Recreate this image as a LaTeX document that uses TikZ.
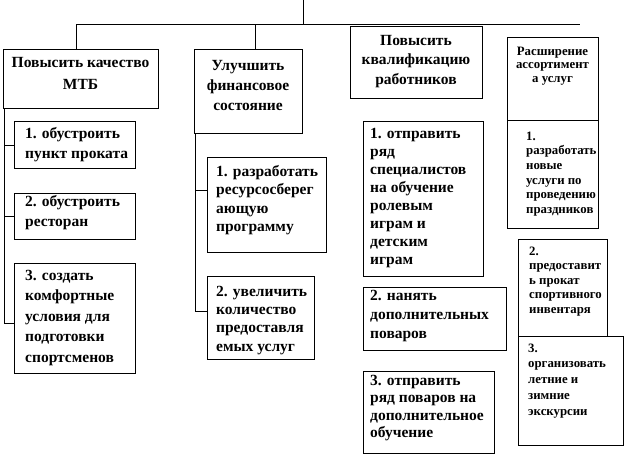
\documentclass[tikz,border=0pt]{standalone}
\usepackage{fontspec}
\setmainfont{Liberation Serif}
\newcommand\bigst{\rule{0pt}{12pt}}
\newcommand\smallst{\rule{0pt}{9.5pt}}
\tikzset{
  box/.style={draw, line width=1pt, inner sep=0pt, anchor=north west},
  ttl/.style={inner sep=0pt, anchor=north, align=center},
  txt/.style={inner sep=0pt, anchor=north west, align=left},
  big/.style={font=\fontsize{15.5}{#1}\selectfont\bfseries},
  small/.style={font=\fontsize{12.8}{#1}\selectfont\bfseries},
  conn/.style={line width=1pt},
}
\begin{document}
\begin{tikzpicture}[x=1pt,y=-1pt]
\useasboundingbox (0,0) rectangle (626,458);
% top-level boxes
\node[box, minimum width=155, minimum height=59] (b1) at (3,49) {};
\node[ttl, big=22] (b1t) at (80.5,55) {\bigst Повысить качество\\МТБ};
\node[box, minimum width=108, minimum height=84] (b2) at (194,49) {};
\node[ttl, big=20] (b2t) at (248,58) {\bigst Улучшить\\финансовое\\состояние};
\node[box, minimum width=132, minimum height=72] (b3) at (350,26) {};
\node[ttl, big=19.5] (b3t) at (416,33) {\bigst Повысить\\квалификацию\\работников};
\node[box, minimum width=91, minimum height=83] (b4) at (507,37) {};
\node[ttl, small=13.5] (b4t) at (552.5,45.5) {\smallst Расширение\\ассортимент\\а услуг};
% children column 1
\node[box, minimum width=121, minimum height=47] (c11) at (14,121) {};
\node[txt, big=20] (c11t) at (25,126) {\bigst 1. обустроить\\пункт проката};
\node[box, minimum width=121, minimum height=46] (c12) at (14,193) {};
\node[txt, big=20] (c12t) at (25,194) {\bigst 2. обустроить\\ресторан};
\node[box, minimum width=121, minimum height=110] (c13) at (14,263) {};
\node[txt, big=20.5] (c13t) at (25,268) {\bigst 3. создать\\комфортные\\условия для\\подготовки\\спортсменов};
% children column 2
\node[box, minimum width=119, minimum height=95] (c21) at (207,157) {};
\node[txt, big=18.5] (c21t) at (216,164) {\bigst 1. разработать\\ресурсосберег\\ающую\\программу};
\node[box, minimum width=107, minimum height=83] (c22) at (207,276) {};
\node[txt, big=18.3] (c22t) at (216,284) {\bigst 2. увеличить\\количество\\предоставля\\емых услуг};
% children column 3
\node[box, minimum width=120, minimum height=155] (c31) at (363,121) {};
\node[txt, big=18] (c31t) at (370,126) {\bigst 1. отправить\\ряд\\специалистов\\на обучение\\ролевым\\играм и\\детским\\играм};
\node[box, minimum width=143, minimum height=63] (c32) at (363,287) {};
\node[txt, big=19] (c32t) at (370,288) {\bigst 2. нанять\\дополнительных\\поваров};
\node[box, minimum width=131, minimum height=82] (c33) at (363,371) {};
\node[txt, big=17.5] (c33t) at (370,373) {\bigst 3. отправить\\ряд поваров на\\дополнительное\\обучение};
% children column 4
\node[box, minimum width=91, minimum height=108] (c41) at (507,120) {};
\node[txt, small=14.6] (c41t) at (526,130.5) {\smallst 1.\\разработать\\новые\\услуги по\\проведению\\праздников};
\node[box, minimum width=89, minimum height=97] (c42) at (518,239) {};
\node[txt, small=14.5] (c42t) at (529,245.5) {\smallst 2.\\предоставит\\ь прокат\\спортивного\\инвентаря};
\node[box, minimum width=105, minimum height=109] (c43) at (518,336) {};
\node[txt, small=15.7] (c43t) at (528,342.5) {\smallst 3.\\организовать\\летние и\\зимние\\экскурсии};
% connectors
\coordinate (top) at (303,0);
\coordinate (hl) at (76,24);
\coordinate (hm) at (255,24);
\coordinate (hr) at (580,24);
\draw[conn] (top) -- (top |- hl);
\draw[conn] (hl) -- (hr);
\draw[conn] (hl) -- (hl |- b1.north);
\draw[conn] (hm) -- (hm |- b2.north);
\coordinate (s1) at (4,108);
\draw[conn] (s1) |- ([yshift=-5pt]c13.west);
\draw[conn] (s1 |- c11.west) -- (c11.west);
\draw[conn] (s1 |- c12.west) -- (c12.west);
\coordinate (s2) at (195,133);
\draw[conn] (s2) |- ([yshift=6.5pt]c22.west);
\draw[conn] (s2 |- c21.west) ++(0,-14.5) -- ([yshift=14.5pt]c21.west);
\end{tikzpicture}
\end{document}
